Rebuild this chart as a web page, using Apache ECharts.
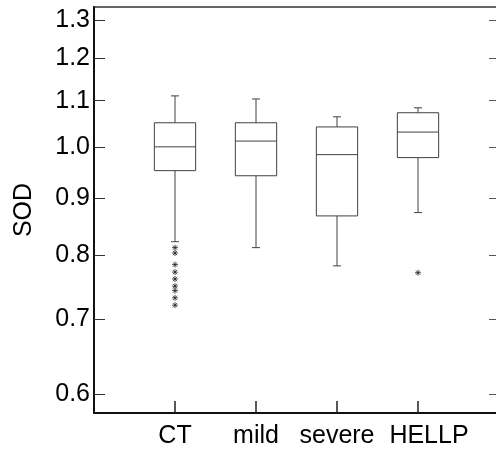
<!DOCTYPE html>
<html>
<head>
<meta charset="utf-8">
<script src="https://cdn.jsdelivr.net/npm/echarts@6/dist/echarts.min.js"></script>
<style>
  html, body { margin: 0; padding: 0; background: #fff; }
  #chart { width: 496px; height: 453px; }
</style>
</head>
<body>
<div id="chart"></div>
<script>
// Groups along the x axis
const groups = ['CT', 'mild', 'severe', 'HELLP'];
// Five-number summaries: lower whisker, Q1, median, Q3, upper whisker
const whiskerLow = [0.822, 0.812, 0.782, 0.873];
const q1 = [0.952, 0.942, 0.867, 0.978];
const median = [1.000, 1.012, 0.984, 1.031];
const q3 = [1.051, 1.051, 1.042, 1.073];
const whiskerHigh = [1.111, 1.104, 1.064, 1.084];
// Outliers per group
const outliersCT = [0.812, 0.803, 0.784, 0.772, 0.761, 0.750, 0.743, 0.732, 0.721];
const outliersHELLP = [0.771];
// Y tick labels (log scale)
const yTicks = [0.6, 0.7, 0.8, 0.9, 1.0, 1.1, 1.2, 1.3];
const yMin = 0.577;
const yMax = 1.335;

// Padded category list so the groups sit at 1..4 between empty ends
const cats = [''].concat(groups.map(g => g === 'HELLP'
  ? { value: g, textStyle: { padding: [0, 0, 0, 22] } }
  : g), ['']);

const boxRows = groups.map((g, i) => [i + 1, whiskerLow[i], q1[i], median[i], q3[i], whiskerHigh[i]]);
const outlierRows = outliersCT.map(v => [1, v]).concat(outliersHELLP.map(v => [4, v]));

const FONT = 'Liberation Sans, Arial, sans-serif';
const LINE = '#404040';

function renderBox(params, api) {
  const x = api.value(0);
  const pLow = api.coord([x, api.value(1)]);
  const pQ1 = api.coord([x, api.value(2)]);
  const pMed = api.coord([x, api.value(3)]);
  const pQ3 = api.coord([x, api.value(4)]);
  const pHigh = api.coord([x, api.value(5)]);
  const half = api.size([1, 0])[0] * 0.255;
  const cap = 4;
  const cx = pMed[0];
  const st = { stroke: LINE, lineWidth: 1, fill: null };
  return {
    type: 'group',
    children: [
      { type: 'rect', shape: { x: cx - half, y: pQ3[1], width: half * 2, height: pQ1[1] - pQ3[1] }, style: st },
      { type: 'line', shape: { x1: cx - half, y1: pMed[1], x2: cx + half, y2: pMed[1] }, style: st },
      { type: 'line', shape: { x1: cx, y1: pQ3[1], x2: cx, y2: pHigh[1] }, style: st },
      { type: 'line', shape: { x1: cx, y1: pQ1[1], x2: cx, y2: pLow[1] }, style: st },
      { type: 'line', shape: { x1: cx - cap, y1: pHigh[1], x2: cx + cap, y2: pHigh[1] }, style: st },
      { type: 'line', shape: { x1: cx - cap, y1: pLow[1], x2: cx + cap, y2: pLow[1] }, style: st }
    ]
  };
}

const chart = echarts.init(document.getElementById('chart'), null, { renderer: 'canvas' });
chart.setOption({
  animation: false,
  backgroundColor: '#fff',
  grid: {
    left: 94, top: 7, right: -3, bottom: 40,
    show: true, borderColor: '#333', borderWidth: 1.5,
    outerBoundsMode: 'none'
  },
  xAxis: {
    type: 'category',
    data: cats,
    boundaryGap: false,
    axisLine: { show: true, lineStyle: { color: '#111', width: 2 } },
    axisTick: {
      show: true, inside: true, length: 12,
      interval: (idx) => idx > 0 && idx < cats.length - 1,
      lineStyle: { color: '#222', width: 1.5 }
    },
    axisLabel: {
      interval: 0, margin: 11,
      color: '#000', fontFamily: FONT, fontSize: 25
    },
    splitLine: { show: false }
  },
  yAxis: [
    {
      type: 'log', logBase: 10, min: yMin, max: yMax,
      name: 'SOD', nameLocation: 'middle', nameGap: 57, nameRotate: 90,
      nameTextStyle: { color: '#000', fontFamily: FONT, fontSize: 25 },
      axisLine: { show: true, lineStyle: { color: '#111', width: 2 } },
      axisTick: { show: true, inside: true, length: 11, customValues: yTicks, lineStyle: { color: '#333' } },
      axisLabel: {
        customValues: yTicks, margin: 4,
        formatter: v => Number(v).toFixed(1),
        color: '#000', fontFamily: FONT, fontSize: 25
      },
      splitLine: { show: false },
      minorTick: { show: false }
    },
    {
      type: 'log', logBase: 10, min: yMin, max: yMax, position: 'right',
      axisLine: { show: true, lineStyle: { color: '#444', width: 1 } },
      axisTick: { show: true, inside: true, length: 10, customValues: yTicks, lineStyle: { color: '#555' } },
      axisLabel: { show: false },
      splitLine: { show: false }
    }
  ],
  series: [
    {
      type: 'custom',
      renderItem: renderBox,
      data: boxRows,
      encode: { x: 0, y: [1, 2, 3, 4, 5] },
      z: 3
    },
    {
      type: 'scatter',
      data: outlierRows,
      symbol: 'path://M0,-1L0,1M-1,0L1,0M-0.7,-0.7L0.7,0.7M-0.7,0.7L0.7,-0.7',
      symbolSize: 6,
      itemStyle: { color: 'rgba(0,0,0,0)', borderColor: '#222', borderWidth: 1 },
      z: 4
    }
  ]
});
</script>
</body>
</html>
